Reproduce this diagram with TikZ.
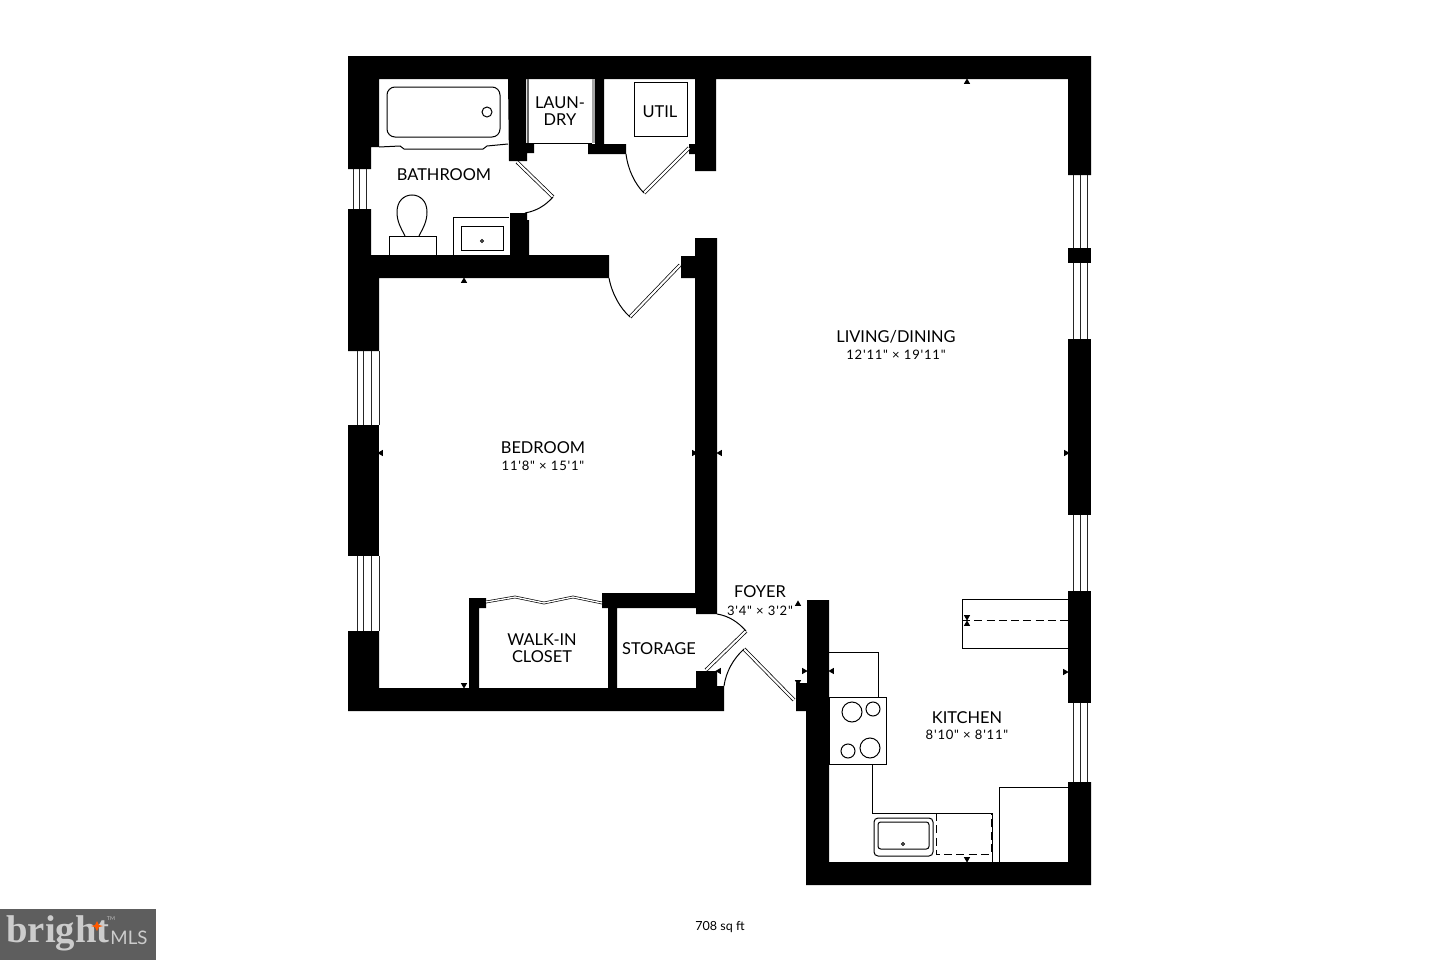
\documentclass[tikz,border=0pt]{standalone}
\usepackage{fontspec}
\newfontfamily\planfont{Lato}
\newfontfamily\logoserif{Liberation Serif}
\usetikzlibrary{shapes.geometric}
\tikzset{
    wall/.style={fill=black},
    fixture/.style={draw=black, line width=0.75pt},
    glass/.style={draw=black!85, line width=0.7pt},
    longdash/.style={dash pattern=on 6pt off 3.2pt},
    doorleaf/.style={draw=black, line width=0.55pt, double=white, double distance=1.6pt},
    roomname/.style={inner sep=0pt, align=center, font=\planfont\fontsize{12.3}{12.7}\selectfont},
    roomsize/.style={inner sep=0pt, font=\planfont\fontsize{9.8}{11}\selectfont\addfontfeature{LetterSpace=6}},
    tick/.style={regular polygon, regular polygon sides=3, fill=black, inner sep=0pt, minimum size=5.4pt},
    tickup/.style={tick},
    tickdown/.style={tick, shape border rotate=180},
    tickleft/.style={tick, shape border rotate=90},
    tickright/.style={tick, shape border rotate=270},
}
\begin{document}
\begin{tikzpicture}[x=0.75pt, y=-0.75pt]
    \useasboundingbox (0,0) rectangle (1440,960);

    % walls
    \fill[wall] (348,56) -- (1091,56) -- (1091,175) -- (1068,175) -- (1068,79) -- (716,79) -- (716,171) -- (695,171) -- (695,154) -- (689,154) -- (689,144) -- (695,144) -- (695,79) -- (604,79) -- (604,144) -- (626,144) -- (626,154) -- (588,154) -- (588,144) -- (595,144) -- (595,79) -- (526,79) -- (526,143) -- (534,143) -- (534,153) -- (527,153) -- (527,161) -- (509,161) -- (508,79) -- (379,79) -- (379,147) -- (371,147) -- (371,169) -- (348,169) -- cycle;
    \fill[wall] (348,209) -- (371,209) -- (371,255) -- (510,255) -- (510,213) -- (527,213) -- (527,220) -- (529,220) -- (529,255) -- (609,255) -- (609,278) -- (379,278) -- (379,351) -- (348,351) -- cycle;
    \fill[wall] (348,425) rectangle (379,556);
    \fill[wall] (348,631) -- (379,631) -- (379,688) -- (469,688) -- (469,598) -- (486,598) -- (486,608) -- (479,608) -- (479,688) -- (608,688) -- (608,608) -- (602,608) -- (602,593) -- (695,593) -- (695,278) -- (681,278) -- (681,256) -- (695,256) -- (695,238) -- (717,238) -- (717,614) -- (696,614) -- (696,608) -- (617,608) -- (617,688) -- (696,688) -- (696,671) -- (717,671) -- (717,686) -- (724,686) -- (724,711) -- (348,711) -- cycle;
    \fill[wall] (807,600) -- (829,600) -- (829,862) -- (1068,862) -- (1068,782) -- (1091,782) -- (1091,885) -- (806,885) -- (806,711) -- (796,711) -- (796,683) -- (807,683) -- cycle;
    \fill[wall] (1068,248) rectangle (1091,263);
    \fill[wall] (1068,339) rectangle (1091,515);
    \fill[wall] (1068,591) rectangle (1091,703);

    % windows
    \draw[glass] (353,169) -- (353,209) (359,169) -- (359,209) (366,169) -- (366,209);
    \draw[glass] (357,351) -- (357,425) (363.5,351) -- (363.5,425) (371,351) -- (371,425) (379,351) -- (379,425);
    \draw[glass] (357,556) -- (357,631) (363.5,556) -- (363.5,631) (371,556) -- (371,631) (379,556) -- (379,631);
    \draw[glass] (1073,175) -- (1073,248) (1080,175) -- (1080,248) (1087,175) -- (1087,248);
    \draw[glass] (1073,263) -- (1073,339) (1080,263) -- (1080,339) (1087,263) -- (1087,339);
    \draw[glass] (1073,515) -- (1073,591) (1080,515) -- (1080,591) (1087,515) -- (1087,591);
    \draw[glass] (1073,703) -- (1073,782) (1080,703) -- (1080,782) (1087,703) -- (1087,782);

    % doors
    \draw[doorleaf] (517,162) -- (553,197);
    \draw[fixture] (553,197) .. controls (545,206) and (536,211) .. (525,213);
    \draw[doorleaf] (689,148) -- (644,193);
    \draw[fixture] (644,193) .. controls (635,184) and (628,170) .. (626,154);
    \draw[doorleaf] (680,265) -- (630,317);
    \draw[fixture] (630,317) .. controls (620,308) and (612,294) .. (609,278);
    \draw[doorleaf] (706,670) -- (746,631);
    \draw[fixture] (746,631) .. controls (738,622) and (729,616) .. (717,614);
    \draw[doorleaf] (794,700) -- (744,649);
    \draw[fixture] (744,649) .. controls (733,659) and (726,672) .. (724,686);
    \draw[draw=black, line width=0.5pt, double=white, double distance=1pt] (486,602) -- (515,597) -- (544,603) -- (573,597) -- (602,603);

    % bathroom
    \draw[fixture, rounded corners=6pt] (387,87) rectangle (500,137);
    \draw[fixture] (487,112) circle (5);
    \draw[fixture] (379,147) -- (400,146) -- (404,149) -- (483,149) -- (487,146) -- (508,144);
    \draw[fixture] (389,255) -- (389,236) -- (436,236) -- (436,255);
    \draw[fixture] (405,236) .. controls (401,228) and (397,222) .. (397,212) .. controls (397,201) and (404,195) .. (412,195) .. controls (420,195) and (427,201) .. (427,212) .. controls (427,222) and (423,228) .. (419,236);
    \draw[fixture] (453,255) -- (453,217) -- (509,217);
    \draw[fixture] (461,226) rectangle (503,250);
    \draw[fixture] (482,241) circle (1.5);

    % laundry and util
    \draw[draw=black!60, line width=0.8pt] (528,79) -- (528,143);
    \draw[fixture] (528,143) -- (592,143);
    \fill[black!35] (592,79) rectangle (595,143);
    \draw[fixture] (634,82) rectangle (687,136);

    % kitchen
    \draw[fixture] (829,652) -- (878,652) -- (878,697);
    \draw[fixture] (829,697) rectangle (886,764);
    \draw[fixture] (852,712) circle (10);
    \draw[fixture] (873,709) circle (7);
    \draw[fixture] (848,751) circle (7);
    \draw[fixture] (870,748) circle (10);
    \draw[fixture] (872,764) -- (872,813) -- (992,813) -- (992,862);
    \draw[fixture, rounded corners=3pt] (874,818) rectangle (933,856);
    \draw[fixture, rounded corners=2pt] (878,822) rectangle (929,849);
    \draw[fixture] (903,844) circle (1.5);
    \draw[fixture, longdash] (936,813) -- (936,854) -- (991,854) -- (991,813);
    \draw[fixture] (999,862) -- (999,787) -- (1068,787);
    \draw[fixture] (1068,599) -- (962,599) -- (962,648) -- (1068,648);
    \draw[fixture, longdash] (962,620) -- (1068,620);

    % measure ticks
    \node[tickup] (tickA) at (967,82) {};
    \node[tickup] (tickB) at (464,281) {};
    \node[tickleft] (tickC) at (381,453) {};
    \node[tickright] (tickD) at (694,453) {};
    \node[tickleft] (tickE) at (720,453) {};
    \node[tickright] (tickF) at (1066,453) {};
    \node[tickdown] (tickG) at (464,685) {};
    \node[tickup] (tickH) at (798,604) {};
    \node[tickleft] (tickI) at (719,671) {};
    \node[tickright] (tickJ) at (804,671) {};
    \node[tickleft] (tickK) at (832,671) {};
    \node[tickdown] (tickL) at (798,682) {};
    \node[tickright] (tickM) at (1065,672) {};
    \node[tickdown] (tickN) at (967,859) {};
    \node[tickdown] (tickO) at (967,617) {};
    \node[tickup] (tickP) at (967,624) {};

    % labels
    \node[roomname] (bathroom) at (444,175) {BATHROOM};
    \node[roomname] (laundry) at (560,111) {LAUN-\\DRY};
    \node[roomname] (util) at (660,112) {UTIL};
    \node[roomname] (living) at (896,337) {LIVING/DINING};
    \node[roomsize] (livingsize) at (896,355) {12'11" × 19'11"};
    \node[roomname] (bedroom) at (543,448) {BEDROOM};
    \node[roomsize] (bedroomsize) at (543,466) {11'8" × 15'1"};
    \node[roomname] (closet) at (542,648) {WALK-IN\\CLOSET};
    \node[roomname] (storage) at (659,649) {STORAGE};
    \node[roomname] (foyer) at (760,592) {FOYER};
    \node[roomsize] (foyersize) at (760,611) {3'4" × 3'2"};
    \node[roomname] (kitchen) at (967,718) {KITCHEN};
    \node[roomsize] (kitchensize) at (967,735) {8'10" × 8'11"};
    \node[inner sep=0pt, font=\planfont\fontsize{9.4}{11}\selectfont] (area) at (720,927) {708 sq ft};

    % logo
    \fill[black!63] (0,909) rectangle (156,960);
    \node[inner sep=0pt, text=black!20, font=\logoserif\bfseries\fontsize{29}{30}\selectfont] (logoname) at (58,933) {bright};
    \node[inner sep=0pt, text=black!20, font=\planfont\fontsize{14}{14}\selectfont] (logomls) at (129,938) {MLS};
    \node[inner sep=0pt, text=black!25, font=\planfont\fontsize{4}{4}\selectfont] (logotm) at (111,919) {TM};
    \fill[orange!70!red] (97,921) -- (99,925) -- (103,926) -- (99,927) -- (97,931) -- (95,927) -- (91,926) -- (95,925) -- cycle;
\end{tikzpicture}
\end{document}
